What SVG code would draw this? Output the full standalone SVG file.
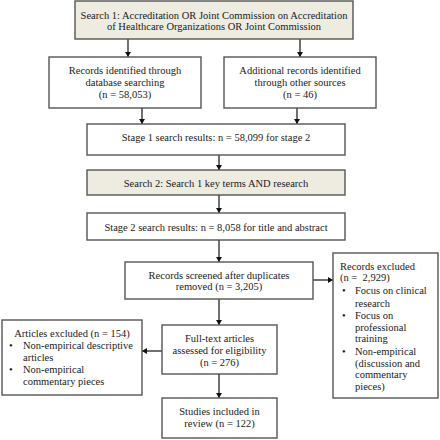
<svg xmlns="http://www.w3.org/2000/svg" width="440" height="440" viewBox="0 0 440 440">
<style>
.box{fill:#ffffff;stroke:#555555;stroke-width:1.4}
.tan{fill:#eeece1;stroke:#555555;stroke-width:1.4}
text{font-family:"Liberation Serif","Times New Roman",serif;font-size:10.5px;fill:#1a1a1a}
.c{text-anchor:middle}
.ln{stroke:#111111;stroke-width:1.2;fill:none;marker-end:url(#ah)}
</style>
<defs>
<marker id="ah" markerWidth="6" markerHeight="6" refX="5" refY="3" orient="auto" markerUnits="userSpaceOnUse">
<path d="M0,0 L5,3 L0,6 Z" fill="#111111"/>
</marker>
</defs>
<rect width="440" height="440" fill="#ffffff"/>
<g id="connectors">
<line class="ln" x1="128" y1="39" x2="128" y2="57"/>
<line class="ln" x1="300" y1="39" x2="300" y2="57"/>
<line class="ln" x1="142" y1="108" x2="142" y2="124"/>
<line class="ln" x1="297" y1="108" x2="297" y2="124"/>
<line class="ln" x1="219" y1="155" x2="219" y2="170"/>
<line class="ln" x1="219" y1="195" x2="219" y2="213"/>
<line class="ln" x1="219" y1="240" x2="219" y2="262"/>
<line class="ln" x1="313" y1="280" x2="333" y2="280"/>
<line class="ln" x1="219" y1="299" x2="219" y2="325"/>
<line class="ln" x1="162" y1="351" x2="142" y2="351"/>
<line class="ln" x1="219" y1="374" x2="219" y2="398"/>
</g>
<g id="search1">
<rect class="tan" x="75" y="1" width="278" height="38"/>
<text class="c" x="214" y="19">Search 1: Accreditation OR Joint Commission on Accreditation</text>
<text class="c" x="214" y="30">of Healthcare Organizations OR Joint Commission</text>
</g>
<g id="db-records">
<rect class="box" x="49" y="57" width="152" height="51"/>
<text class="c" x="125" y="74">Records identified through</text>
<text class="c" x="125" y="86">database searching</text>
<text class="c" x="125" y="98">(n = 58,053)</text>
</g>
<g id="other-records">
<rect class="box" x="224" y="57" width="152" height="51"/>
<text class="c" x="300" y="74">Additional records identified</text>
<text class="c" x="300" y="86">through other sources</text>
<text class="c" x="300" y="98">(n = 46)</text>
</g>
<g id="stage1">
<rect class="box" x="87" y="124" width="258" height="31"/>
<text class="c" x="216" y="141">Stage 1 search results: n = 58,099 for stage 2</text>
</g>
<g id="search2">
<rect class="tan" x="87" y="170" width="258" height="25"/>
<text class="c" x="216" y="186.5">Search 2: Search 1 key terms AND research</text>
</g>
<g id="stage2">
<rect class="box" x="87" y="213" width="258" height="27"/>
<text class="c" x="216" y="230.5">Stage 2 search results: n = 8,058 for title and abstract</text>
</g>
<g id="screened">
<rect class="box" x="125" y="262" width="188" height="37"/>
<text class="c" x="219" y="278.5">Records screened after duplicates</text>
<text class="c" x="219" y="289.5">removed (n = 3,205)</text>
</g>
<g id="records-excluded">
<rect class="box" x="333" y="253" width="105" height="145"/>
<text x="340" y="269.5">Records excluded</text>
<text x="340" y="281" xml:space="preserve">(n =  2,929)</text>
<text x="342" y="294">•</text>
<text x="355" y="294">Focus on clinical</text>
<text x="355" y="306.5">research</text>
<text x="342" y="318.5">•</text>
<text x="355" y="318.5">Focus on</text>
<text x="355" y="330.5">professional</text>
<text x="355" y="342">training</text>
<text x="342" y="354.5">•</text>
<text x="355" y="354.5">Non-empirical</text>
<text x="355" y="366.5">(discussion and</text>
<text x="355" y="378">commentary</text>
<text x="355" y="390">pieces)</text>
</g>
<g id="fulltext">
<rect class="box" x="162" y="325" width="115" height="49"/>
<text class="c" x="219.5" y="341.5">Full-text articles</text>
<text class="c" x="219.5" y="353.5">assessed for eligibility</text>
<text class="c" x="219.5" y="365.5">(n = 276)</text>
</g>
<g id="articles-excluded">
<rect class="box" x="2" y="320" width="140" height="75"/>
<text class="c" x="72" y="336.5">Articles excluded (n = 154)</text>
<text x="9" y="348.5">•</text>
<text x="23" y="348.5">Non-empirical descriptive</text>
<text x="23" y="360.5">articles</text>
<text x="9" y="372.5">•</text>
<text x="23" y="372.5">Non-empirical</text>
<text x="23" y="384.5">commentary pieces</text>
</g>
<g id="included">
<rect class="box" x="162" y="398" width="115" height="40"/>
<text class="c" x="219.5" y="414.5">Studies included in</text>
<text class="c" x="219.5" y="426.5">review (n = 122)</text>
</g>
</svg>
